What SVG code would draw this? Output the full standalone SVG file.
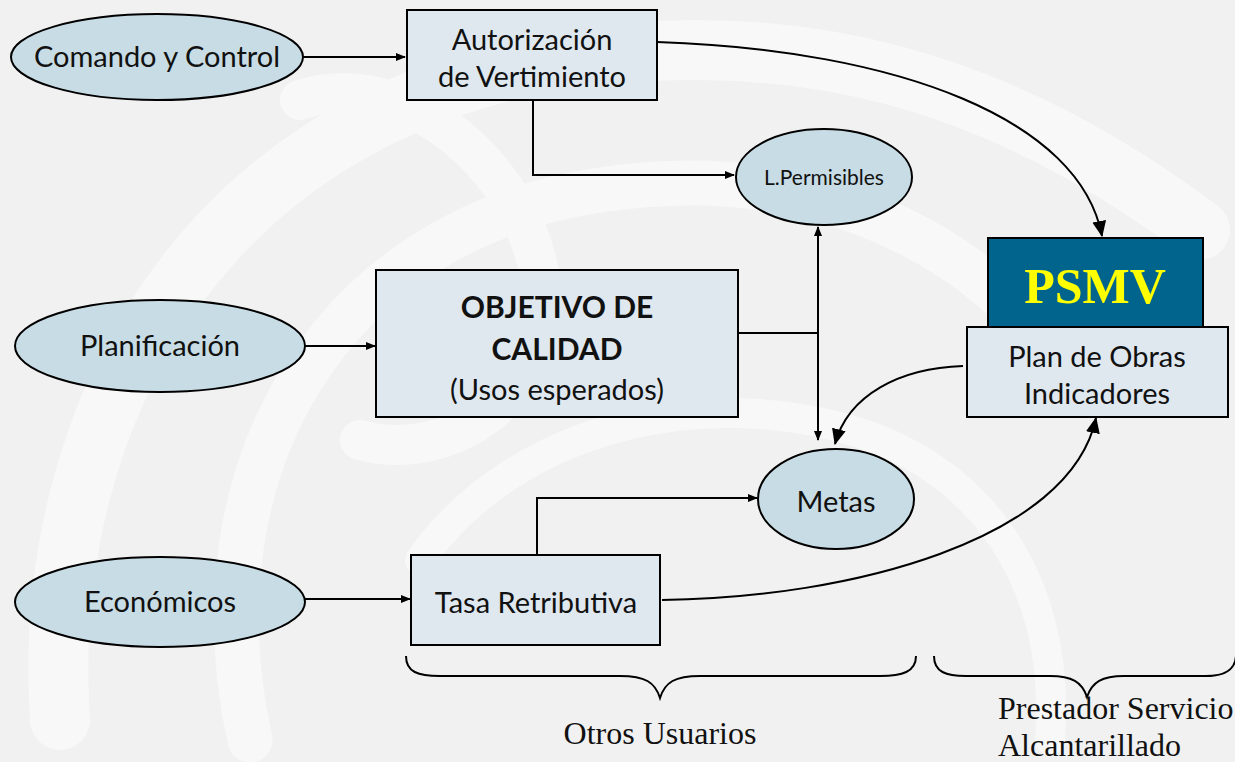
<svg xmlns="http://www.w3.org/2000/svg" width="1235" height="762" viewBox="0 0 1235 762">
<defs>
<style>
.ell{fill:#c8dce5;stroke:#000;stroke-width:2}
.box{fill:#dfe8ef;stroke:#000;stroke-width:2}
.t{font-family:Lato,"Open Sans","DejaVu Sans",sans-serif;fill:#111;text-anchor:middle;font-size:29px}
.s{font-family:"Liberation Serif","Times New Roman",serif;fill:#111;font-size:32px}
.c{fill:none;stroke:#000;stroke-width:2}
.wm{fill:none;stroke:#ffffff;stroke-linecap:round}
</style>
<marker id="ah" markerWidth="10" markerHeight="8" refX="9" refY="4" orient="auto" markerUnits="userSpaceOnUse">
<path d="M0,0 L10,4 L0,8 Z" fill="#000"/>
</marker>
<marker id="ahL" markerWidth="16" markerHeight="14" refX="15" refY="7" orient="auto" markerUnits="userSpaceOnUse">
<path d="M0,0 L16,7 L0,14 Z" fill="#000"/>
</marker>
</defs>
<rect width="1235" height="762" fill="#f1f1f1"/>
<g id="watermark" opacity="0.5">
<path class="wm" stroke-width="60" d="M60,720 C40,420 200,120 560,60 C800,25 1000,80 1200,230"/>
<path class="wm" stroke-width="45" d="M250,740 C190,470 330,230 600,190 C800,160 960,230 1060,360"/>
<path class="wm" stroke-width="30" d="M420,560 C520,420 720,380 880,440 C1000,490 1060,600 1050,740"/>
<path class="wm" stroke-width="40" d="M300,100 C420,60 560,200 540,330 C520,420 430,460 360,440"/>
</g>
<g id="connectors">
<line class="c" x1="303" y1="57" x2="405" y2="57" marker-end="url(#ah)"/>
<polyline class="c" points="533,100 533,175 734,175" marker-end="url(#ah)"/>
<path class="c" d="M657,42 C900,50 1080,120 1102,236" marker-end="url(#ahL)"/>
<line class="c" x1="305" y1="346" x2="375" y2="346" marker-end="url(#ah)"/>
<line class="c" x1="735" y1="333" x2="818" y2="333"/>
<line class="c" x1="818" y1="333" x2="818" y2="227" marker-end="url(#ah)"/>
<line class="c" x1="818" y1="333" x2="818" y2="440" marker-end="url(#ah)"/>
<path class="c" d="M963,366 C900,368 848,395 835,444" marker-end="url(#ahL)"/>
<polyline class="c" points="537,555 537,498 757,498" marker-end="url(#ah)"/>
<path class="c" d="M662,600 C850,598 1070,540 1096,418" marker-end="url(#ahL)"/>
<line class="c" x1="303" y1="599" x2="410" y2="599" marker-end="url(#ah)"/>
</g>
<g id="comando">
<ellipse class="ell" cx="157" cy="57" rx="146" ry="43"/>
<text class="t" x="157" y="67">Comando y Control</text>
</g>
<g id="autorizacion">
<rect class="box" x="407" y="10" width="250" height="90"/>
<text class="t" x="532" y="50">Autorización</text>
<text class="t" x="532" y="87">de Vertimiento</text>
</g>
<g id="lpermisibles">
<ellipse class="ell" cx="824" cy="177" rx="88" ry="48"/>
<text class="t" x="824" y="185" style="font-size:21px">L.Permisibles</text>
</g>
<g id="psmv">
<rect x="988" y="238" width="215" height="89" fill="#00648c" stroke="#000" stroke-width="2"/>
<text x="1095" y="303" font-size="50" font-weight="bold" text-anchor="middle" fill="#ffff00" font-family="'Liberation Serif','Times New Roman',serif">PSMV</text>
</g>
<g id="plan">
<rect class="box" x="967" y="327" width="261" height="90"/>
<text class="t" x="1097" y="367">Plan de Obras</text>
<text class="t" x="1097" y="404">Indicadores</text>
</g>
<g id="planificacion">
<ellipse class="ell" cx="160" cy="346" rx="145" ry="46"/>
<text class="t" x="160" y="356">Planificación</text>
</g>
<g id="objetivo">
<rect class="box" x="376" y="270" width="362" height="147"/>
<text class="t" x="557" y="318" style="font-size:30px;font-weight:bold">OBJETIVO DE</text>
<text class="t" x="557" y="360" style="font-size:30px;font-weight:bold">CALIDAD</text>
<text class="t" x="557" y="400">(Usos esperados)</text>
</g>
<g id="metas">
<ellipse class="ell" cx="836" cy="499" rx="78" ry="50"/>
<text class="t" x="836" y="512">Metas</text>
</g>
<g id="tasa">
<rect class="box" x="411" y="555" width="249" height="90"/>
<text class="t" x="536" y="613">Tasa Retributiva</text>
</g>
<g id="economicos">
<ellipse class="ell" cx="160" cy="602" rx="145" ry="45"/>
<text class="t" x="160" y="612">Económicos</text>
</g>
<g id="braces">
<path class="c" stroke-width="1.6" d="M406,656 C406,672 418,676 440,676 L620,676 C645,676 655,682 660,698 C665,682 675,676 700,676 L880,676 C902,676 916,672 916,656"/>
<path class="c" stroke-width="1.6" d="M934,656 C934,672 946,676 966,676 L1050,676 C1072,676 1082,682 1087,697 C1092,682 1102,676 1124,676 L1205,676 C1225,676 1235,670 1236,656"/>
</g>
<g id="labels">
<text class="s" x="660" y="744" text-anchor="middle">Otros Usuarios</text>
<text class="s" x="998" y="719">Prestador Servicio</text>
<text class="s" x="998" y="756">Alcantarillado</text>
</g>
</svg>
